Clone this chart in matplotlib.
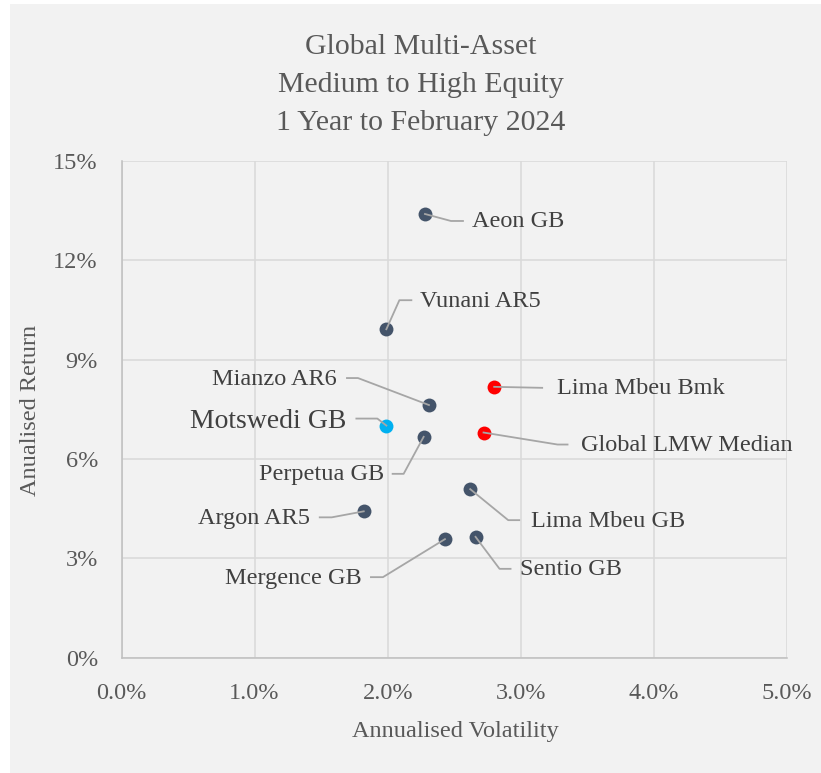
import matplotlib
matplotlib.use('Agg')
import matplotlib.pyplot as plt
from matplotlib.lines import Line2D
from matplotlib.patches import Rectangle
from matplotlib.transforms import IdentityTransform

# data (percent)
funds = ['Aeon GB', 'Vunani AR5', 'Mianzo AR6', 'Motswedi GB', 'Perpetua GB',
         'Lima Mbeu Bmk', 'Global LMW Median', 'Lima Mbeu GB', 'Argon AR5',
         'Mergence GB', 'Sentio GB']
volatility = [2.28, 1.99, 2.31, 1.99, 2.27, 2.80, 2.72, 2.62, 1.82, 2.43, 2.66]
returns = [13.40, 9.92, 7.63, 7.01, 6.67, 8.18, 6.80, 5.09, 4.42, 3.58, 3.65]
groups = ['peer', 'peer', 'peer', 'motswedi', 'peer', 'bench', 'bench',
          'peer', 'peer', 'peer', 'peer']

x_ticks = [0, 1, 2, 3, 4, 5]
y_ticks = [0, 3, 6, 9, 12, 15]

# styling
colours = {'peer': '#44546a', 'bench': '#ff0000', 'motswedi': '#00b0f0'}
text_col = '#595959'
label_col = '#404040'
bg = '#f2f2f2'
leader_col = '#a6a6a6'

# leader layout in pixels from the point (x right, y down): knee, end, text anchor, ha
leaders = {
    'Aeon GB': ((26, 7), (38, 7), (47, 8), 'left'),
    'Vunani AR5': ((13, -29), (25, -29), (34, -28), 'left'),
    'Mianzo AR6': ((-71, -27), (-82, -27), (-92, -26), 'right'),
    'Motswedi GB': ((-9, -7), (-30, -7), (-40, -4), 'right'),
    'Perpetua GB': ((-20, 37), (-31, 37), (-40, 38), 'right'),
    'Lima Mbeu Bmk': ((48, 1), (48, 1), (63, 2), 'left'),
    'Global LMW Median': ((74, 12), (84, 12), (97, 13), 'left'),
    'Lima Mbeu GB': ((38, 31), (49, 31), (61, 32), 'left'),
    'Argon AR5': ((-32, 6), (-44, 6), (-54, 7), 'right'),
    'Mergence GB': ((-62, 38), (-74, 38), (-83, 39), 'right'),
    'Sentio GB': ((24, 32), (35, 32), (44, 33), 'left'),
}

plt.rcParams['font.family'] = 'Liberation Serif'

W, H = 821, 773
fig = plt.figure(figsize=(W / 100, H / 100), dpi=100, facecolor='white')
fig.add_artist(Rectangle((10 / W, 0), 1 - 10 / W, 1 - 4 / H, transform=fig.transFigure,
                         facecolor=bg, edgecolor='none', zorder=-10))

ax = fig.add_axes([121.5 / W, 1 - 657.7 / H, 665.5 / W, 496.7 / H])
ax.set_facecolor(bg)
ax.set_xlim(0, 5)
ax.set_ylim(0, 15)
ax.set_xticks(x_ticks)
ax.set_yticks(y_ticks)
ax.set_xticklabels(['{:.1f}%'.format(v) for v in x_ticks])
ax.set_yticklabels(['{:.0f}%'.format(v) for v in y_ticks])
ax.tick_params(length=0, labelsize=17.5, labelcolor=text_col)
ax.tick_params(axis='x', pad=18)
ax.tick_params(axis='y', pad=17)
ax.grid(True, color='#d9d9d9', linewidth=1.1)
ax.set_axisbelow(True)
for s in ['top', 'right']:
    ax.spines[s].set_visible(False)
for s in ['left', 'bottom']:
    ax.spines[s].set_color('#bfbfbf')
    ax.spines[s].set_linewidth(1.1)

for x, y, g in zip(volatility, returns, groups):
    ax.scatter(x, y, s=100, color=colours[g], zorder=3, linewidths=0)

# leaders and labels in pixel space
for name, x, y in zip(funds, volatility, returns):
    px, py = ax.transData.transform((x, y))
    knee, end, txt, ha = leaders[name]
    xs = [px, px + knee[0], px + end[0]]
    ys = [py, py - knee[1], py - end[1]]
    fig.add_artist(Line2D(xs, ys, transform=IdentityTransform(),
                          color=leader_col, linewidth=1.3, zorder=5))
    size = 20 if name == 'Motswedi GB' else 17.5
    fig.text(px + txt[0], py - txt[1], name, transform=IdentityTransform(),
             ha=ha, va='center', fontsize=size, color=label_col)

fig.text(421 / W, 1 - 85 / H, 'Global Multi-Asset\nMedium to High Equity\n1 Year to February 2024',
         ha='center', va='center', fontsize=21.5, color=text_col, linespacing=1.6)
fig.text(455 / W, 1 - 732 / H, 'Annualised Volatility', ha='center', va='center',
         fontsize=17.5, color=text_col)
fig.text(30 / W, 1 - 410 / H, 'Anualised Return', ha='center', va='center',
         rotation=90, fontsize=17.5, color=text_col)

fig.savefig('out.png', dpi=100, facecolor=fig.get_facecolor())
